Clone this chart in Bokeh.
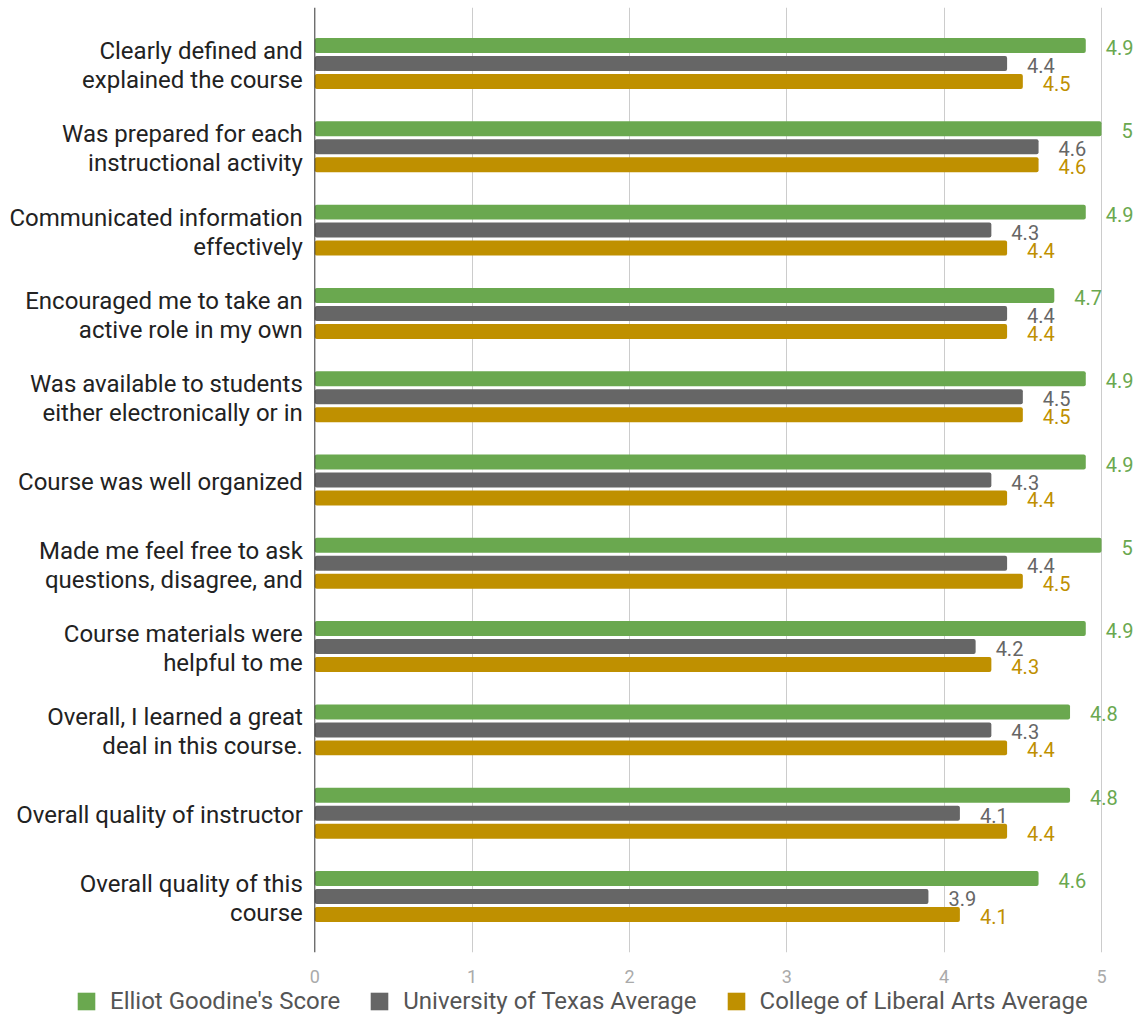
from bokeh.plotting import figure
from bokeh.layouts import column
from bokeh.models import (ColumnDataSource, FactorRange, Range1d, FixedTicker, Span,
                          Legend, LegendItem)
from bokeh.transform import dodge
from bokeh.core.properties import value
from bokeh.embed import file_html
from bokeh.resources import INLINE

categories = [
    "Clearly defined and\nexplained the course",
    "Was prepared for each\ninstructional activity",
    "Communicated information\neffectively",
    "Encouraged me to take an\nactive role in my own",
    "Was available to students\neither electronically or in",
    "Course was well organized",
    "Made me feel free to ask\nquestions, disagree, and",
    "Course materials were\nhelpful to me",
    "Overall, I learned a great\ndeal in this course.",
    "Overall quality of instructor",
    "Overall quality of this\ncourse",
]
elliot = [4.9, 5, 4.9, 4.7, 4.9, 4.9, 5, 4.9, 4.8, 4.8, 4.6]
ut_avg = [4.4, 4.6, 4.3, 4.4, 4.5, 4.3, 4.4, 4.2, 4.3, 4.1, 3.9]
cola_avg = [4.5, 4.6, 4.4, 4.4, 4.5, 4.4, 4.5, 4.3, 4.4, 4.4, 4.1]
series_names = ["Elliot Goodine's Score", "University of Texas Average",
                "College of Liberal Arts Average"]
series_colors = ["#6aa84f", "#666666", "#bf9000"]
x_ticks = [0, 1, 2, 3, 4, 5]

FONT = "Roboto"
W = 1136

src = ColumnDataSource(dict(
    cat=categories, elliot=elliot, ut=ut_avg, cola=cola_avg,
    elliot_lbl=[f"{v:g}" for v in elliot],
    ut_lbl=[f"{v:g}" for v in ut_avg],
    cola_lbl=[f"{v:g}" for v in cola_avg],
    zero=[0] * len(categories),
))

PX = 157.34  # pixels per score unit
yr = FactorRange(factors=categories[::-1], range_padding=0.0314)
xr = Range1d(-314.3 / PX, (W - 314.3) / PX)

p = figure(width=W, height=988, y_range=yr, x_range=xr,
           output_backend="svg", toolbar_location=None,
           min_border_top=7, min_border_left=0, min_border_right=0,
           min_border_bottom=36)
p.outline_line_color = None
p.background_fill_color = "white"
p.yaxis.visible = False
p.ygrid.grid_line_color = None
p.xgrid.ticker = FixedTicker(ticks=x_ticks[1:])
p.xgrid.grid_line_color = "#cccccc"
p.xaxis.ticker = FixedTicker(ticks=x_ticks)
p.xaxis.axis_line_color = None
p.xaxis.major_tick_line_color = None
p.xaxis.minor_tick_line_color = None
p.xaxis.major_label_text_font = FONT
p.xaxis.major_label_text_font_size = "18px"
p.xaxis.major_label_text_color = "#aaaaaa"
p.xaxis.major_label_standoff = 11

pitch = 0.216
bh = 0.18
fields = ["elliot", "ut", "cola"]
offsets = [pitch, 0.0, -pitch]
for f, off, col in zip(fields, offsets, series_colors):
    p.hbar(y=dodge("cat", off, range=yr), left=0, right=f, height=bh,
           source=src, fill_color=col, line_color=None, border_radius=2)
    p.text(x=f, y=dodge("cat", off, range=yr), text=f + "_lbl", source=src,
           x_offset=20, y_offset=2, text_align="left", text_baseline="middle",
           text_font=value(FONT), text_font_size="20px", text_color=col)

# category labels
p.text(x="zero", y="cat", text="cat", source=src, x_offset=-12, y_offset=2,
       text_align="right", text_baseline="middle", text_font=value(FONT),
       text_font_size="24px", text_color="#222222", text_line_height=1.03)

p.add_layout(Span(location=0, dimension="height", line_color="#333333",
                  line_width=1))

# legend strip below the chart (hidden proxies carry the series colours)
leg = figure(width=W, height=28, x_range=(0, 1), y_range=(0, 1),
             output_backend="svg", toolbar_location=None,
             min_border=0)
leg.axis.visible = False
leg.grid.visible = False
leg.outline_line_color = None
leg_renderers = [leg.hbar(y=f, right=f, left=0, height=0.5, source=src,
                          fill_color=c, line_color=None, visible=False)
                 for f, c in zip(fields, series_colors)]
legend = Legend(items=[LegendItem(label=n, renderers=[r])
                       for n, r in zip(series_names, leg_renderers)],
                orientation="horizontal", location=(75, 1),
                glyph_width=22, glyph_height=22, label_standoff=13, spacing=28,
                padding=0, margin=0, border_line_color=None,
                background_fill_alpha=0, inactive_fill_alpha=0,
                label_text_font=FONT, label_text_font_size="24px",
                label_text_color="#555555")
leg.add_layout(legend, "center")

layout = column(p, leg, spacing=0)
open("out.html", "w").write(file_html(layout, INLINE))
